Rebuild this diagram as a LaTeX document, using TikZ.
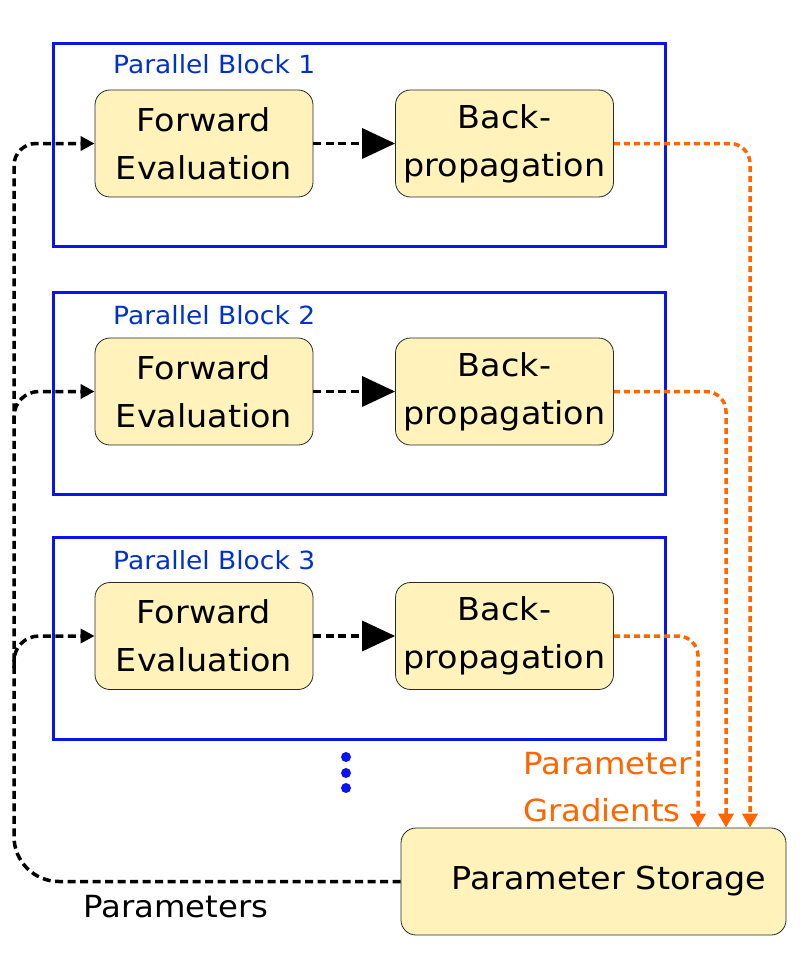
\documentclass[tikz,border=0pt]{standalone}
\usepackage{fontspec}
\setmainfont[FakeStretch=1.06]{DejaVu Sans}
\usetikzlibrary{arrows.meta}
\definecolor{boxfill}{RGB}{255,242,187}
\definecolor{boxline}{RGB}{40,40,40}
\definecolor{frameblue}{RGB}{10,20,240}
\definecolor{labelblue}{RGB}{0,50,200}
\definecolor{gradorange}{RGB}{255,102,0}
\begin{document}
\begin{tikzpicture}[x=1pt,y=-1pt,
  box/.style={draw=boxline, line width=0.8pt, fill=boxfill, rounded corners=15pt,
    minimum width=218pt, minimum height=107pt, align=center, inner sep=0pt,
    font=\fontsize{31.5}{48}\selectfont},
  frame/.style={draw=frameblue, line width=3pt, minimum width=612pt, minimum height=202pt, inner sep=0pt},
  blabel/.style={text=labelblue, anchor=base west, inner sep=0pt, font=\fontsize{25}{28}\selectfont},
  flow/.style={line width=3.5pt, dash pattern=on 8pt off 4.5pt, -{Triangle[length=33pt,width=30pt]}},
  feed/.style={line width=3.5pt, dash pattern=on 8pt off 4.5pt, rounded corners=25pt, -{Triangle[length=14pt,width=14pt]}},
  grad/.style={draw=gradorange, line width=3.5pt, dash pattern=on 6pt off 4pt, rounded corners=20pt, -{Triangle[length=14pt,width=15pt,color=gradorange]}},
  txt/.style={inner sep=0pt, anchor=base west, font=\fontsize{30.5}{36}\selectfont}
]
\useasboundingbox (0,0) rectangle (803,979);

% parallel block frames
\node[frame] (p1) at (359,145) {};
\node[frame] (p2) at (359,393) {};
\node[frame] (p3) at (359,638) {};
\node[blabel] (l1) at (113,74) {Parallel Block 1};
\node[blabel] (l2) at (113,324) {Parallel Block 2};
\node[blabel] (l3) at (113,569) {Parallel Block 3};

% boxes
\node[box] (f1) at (204,143.5) {Forward\\Evaluation};
\node[box] (b1) at (504.5,143.5) {Back-\\propagation};
\node[box] (f2) at (204,391.5) {Forward\\Evaluation};
\node[box] (b2) at (504.5,391.5) {Back-\\propagation};
\node[box] (f3) at (204,636) {Forward\\Evaluation};
\node[box] (b3) at (504.5,636) {Back-\\propagation};
\node[box, minimum width=385pt] (ps) at (593.5,881.5) {\hspace*{31pt}Parameter Storage};

% forward -> backprop
\draw[flow] (f1.east) -- (b1.west);
\draw[flow] (f2.east) -- (b2.west);
\draw[flow] (f3.east) -- (b3.west);

% parameters feed
\coordinate (L) at (14,0);
\draw[feed] (ps.west) [rounded corners=45pt] -- (L |- ps.west) [rounded corners=22pt] -- (L |- f1.west) -- (f1.west);
\draw[feed] (L |- f2.west) ++(0,32) -- (L |- f2.west) -- (f2.west);
\draw[feed] (L |- f3.west) ++(0,32) -- (L |- f3.west) -- (f3.west);

% gradients
\draw[grad] (b1.east) -| ([xshift=156.5pt]ps.north);
\draw[grad] (b2.east) -| ([xshift=132.5pt]ps.north);
\draw[grad] (b3.east) -| ([xshift=104.5pt]ps.north);

% texts
\node[txt, text=gradorange] (g1) at (523,774) {Parameter};
\node[txt, text=gradorange] (g2) at (523,821) {Gradients};
\node[txt] (pt) at (83,917) {Parameters};

% dots
\fill[frameblue] (346,757) circle (5pt);
\fill[frameblue] (346,773) circle (5pt);
\fill[frameblue] (346,788) circle (5pt);
\end{tikzpicture}
\end{document}
